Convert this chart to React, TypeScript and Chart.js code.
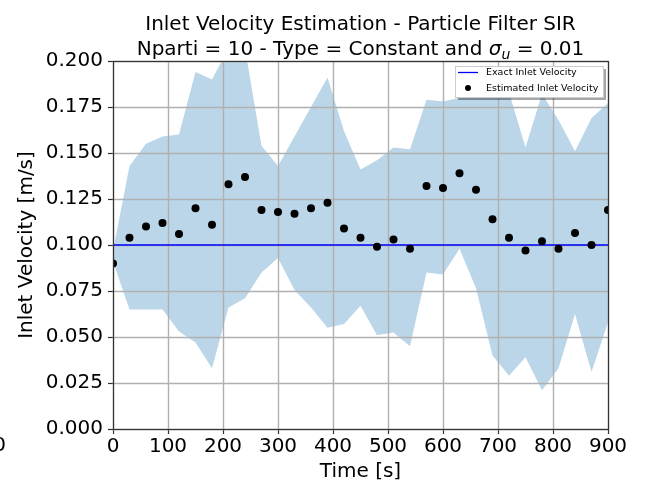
import React, { useEffect, useRef } from "react";
import { Chart, registerables } from "chart.js";

Chart.register(...registerables);

const times = [0, 30, 60, 90, 120, 150, 180, 210, 240, 270, 300, 330, 360, 390, 420, 450, 480, 510, 540, 570, 600, 630, 660, 690, 720, 750, 780, 810, 840, 870, 900];
const estimated = [0.090, 0.104, 0.110, 0.112, 0.106, 0.120, 0.111, 0.133, 0.137, 0.119, 0.118, 0.117, 0.120, 0.123, 0.109, 0.104, 0.099, 0.103, 0.098, 0.132, 0.131, 0.139, 0.130, 0.114, 0.104, 0.097, 0.102, 0.098, 0.1065, 0.100, 0.119];
const upperBand = [0.097, 0.143, 0.155, 0.159, 0.160, 0.194, 0.190, 0.207, 0.207, 0.154, 0.143, 0.159, 0.175, 0.191, 0.162, 0.141, 0.146, 0.153, 0.152, 0.179, 0.178, 0.180, 0.181, 0.184, 0.183, 0.153, 0.182, 0.168, 0.151, 0.169, 0.177];
const lowerBand = [0.091, 0.065, 0.065, 0.065, 0.053, 0.047, 0.033, 0.066, 0.071, 0.085, 0.093, 0.0755, 0.066, 0.055, 0.057, 0.067, 0.051, 0.0525, 0.045, 0.085, 0.084, 0.098, 0.0765, 0.040, 0.029, 0.039, 0.021, 0.033, 0.0625, 0.031, 0.058];
const exactTimes = [0, 900];
const exactValues = [0.1, 0.1];
const xTicks = [0, 100, 200, 300, 400, 500, 600, 700, 800, 900];
const yTicks = [0, 0.025, 0.05, 0.075, 0.1, 0.125, 0.15, 0.175, 0.2];
const titleLine1 = "Inlet Velocity Estimation - Particle Filter SIR";
const titleLine2a = "Nparti = 10 - Type = Constant and ";
const titleSigma = "\u03C3";
const titleSub = "u";
const titleLine2b = " = 0.01";
const legendLabels = ["Exact Inlet Velocity", "Estimated Inlet Velocity"];

const FONT = "'DejaVu Sans', sans-serif";

const decorPlugin = {
  id: "decor",
  afterDatasetDraw(chart: any, args: any) {
    if (args.index !== 2) return;
    const { ctx, chartArea, scales } = chart;
    ctx.save();
    ctx.strokeStyle = "#b0b0b0";
    ctx.lineWidth = 1.4;
    xTicks.forEach((t) => {
      const x = Math.round(scales.x.getPixelForValue(t)) + 0.5;
      ctx.beginPath();
      ctx.moveTo(x, chartArea.top);
      ctx.lineTo(x, chartArea.bottom);
      ctx.stroke();
    });
    yTicks.forEach((v) => {
      const y = Math.round(scales.y.getPixelForValue(v)) + 0.5;
      ctx.beginPath();
      ctx.moveTo(chartArea.left, y);
      ctx.lineTo(chartArea.right, y);
      ctx.stroke();
    });
    ctx.restore();
  },
  afterDraw(chart: any) {
    const { ctx, chartArea } = chart;
    ctx.save();
    // frame
    ctx.strokeStyle = "#333";
    ctx.lineWidth = 1.2;
    ctx.strokeRect(chartArea.left + 0.5, chartArea.top + 0.5, chartArea.right - chartArea.left, chartArea.bottom - chartArea.top);

    // title
    const cx = (chartArea.left + chartArea.right) / 2;
    ctx.fillStyle = "#000";
    ctx.textBaseline = "alphabetic";
    ctx.textAlign = "center";
    ctx.font = `20px ${FONT}`;
    ctx.fillText(titleLine1, cx, 30);
    ctx.textAlign = "left";
    const wA = ctx.measureText(titleLine2a).width;
    ctx.font = `italic 20px ${FONT}`;
    const wS = ctx.measureText(titleSigma).width;
    ctx.font = `italic 14px ${FONT}`;
    const wU = ctx.measureText(titleSub).width;
    ctx.font = `20px ${FONT}`;
    const wB = ctx.measureText(titleLine2b).width;
    const total = wA + wS + wU + wB;
    let x0 = cx - total / 2;
    const by = 55;
    ctx.fillText(titleLine2a, x0, by);
    x0 += wA;
    ctx.font = `italic 20px ${FONT}`;
    ctx.fillText(titleSigma, x0, by);
    x0 += wS;
    ctx.font = `italic 14px ${FONT}`;
    ctx.fillText(titleSub, x0, by + 4);
    x0 += wU;
    ctx.font = `20px ${FONT}`;
    ctx.fillText(titleLine2b, x0, by);

    // legend
    const lx = 455, ly = 66, lw = 148, lh = 31;
    ctx.fillStyle = "rgba(0,0,0,0.35)";
    ctx.fillRect(lx + 3, ly + 3, lw, lh);
    ctx.fillStyle = "#fff";
    ctx.fillRect(lx, ly, lw, lh);
    ctx.strokeStyle = "#cccccc";
    ctx.lineWidth = 1;
    ctx.strokeRect(lx + 0.5, ly + 0.5, lw, lh);
    ctx.strokeStyle = "blue";
    ctx.lineWidth = 1.3;
    ctx.beginPath();
    ctx.moveTo(458, 72.5);
    ctx.lineTo(478, 72.5);
    ctx.stroke();
    ctx.fillStyle = "#000";
    ctx.beginPath();
    ctx.arc(468, 88, 3, 0, Math.PI * 2);
    ctx.fill();
    ctx.font = `9.5px ${FONT}`;
    ctx.textBaseline = "middle";
    ctx.textAlign = "left";
    ctx.fillText(legendLabels[0], 486, 73);
    ctx.fillText(legendLabels[1], 486, 89);

    // stray clipped label at far left
    ctx.font = `20px ${FONT}`;
    ctx.textAlign = "right";
    ctx.textBaseline = "middle";
    ctx.fillText("0", 6, 446);
    ctx.restore();
  },
};

export default function App() {
  const ref = useRef<HTMLCanvasElement>(null);
  useEffect(() => {
    if (!ref.current) return;
    const chart = new Chart(ref.current, {
      type: "line",
      data: {
        datasets: [
          {
            label: legendLabels[1],
            data: times.map((t, i) => ({ x: t, y: estimated[i] })),
            showLine: false,
            pointRadius: 4,
            pointBackgroundColor: "#000",
            pointBorderWidth: 0,
            borderColor: "#000",
          },
          {
            label: legendLabels[0],
            data: exactTimes.map((t, i) => ({ x: t, y: exactValues[i] })),
            borderColor: "blue",
            borderWidth: 1.4,
            pointRadius: 0,
            fill: false,
          },
          {
            label: "upper",
            data: times.map((t, i) => ({ x: t, y: upperBand[i] })),
            borderWidth: 0,
            borderColor: "rgba(0,0,0,0)",
            pointRadius: 0,
            fill: "+1",
            backgroundColor: "rgba(31,119,180,0.3)",
            tension: 0,
          },
          {
            label: "lower",
            data: times.map((t, i) => ({ x: t, y: lowerBand[i] })),
            borderWidth: 0,
            borderColor: "rgba(0,0,0,0)",
            pointRadius: 0,
            fill: false,
            tension: 0,
          },
        ],
      },
      options: {
        responsive: false,
        animation: false,
        layout: { padding: { left: 0, right: 37, top: 61, bottom: 0 } },
        plugins: {
          legend: { display: false },
          title: { display: false },
          tooltip: { enabled: false },
        },
        scales: {
          x: {
            type: "linear",
            min: 0,
            max: 900,
            afterFit: (s: any) => { s.height = 61; },
            afterBuildTicks: (s: any) => { s.ticks = xTicks.map((v) => ({ value: v })); },
            ticks: {
              autoSkip: false,
              maxRotation: 0,
              color: "#000",
              font: { family: FONT, size: 20 },
              padding: 1,
              callback: (v: any) => String(v),
            },
            grid: { drawOnChartArea: false, drawTicks: true, tickLength: 5, tickColor: "#333", tickWidth: 1.2 },
            border: { display: false },
            title: { display: true, text: "Time [s]", color: "#000", font: { family: FONT, size: 20 }, padding: { top: 0, bottom: 6 } },
          },
          y: {
            type: "linear",
            min: 0,
            max: 0.2,
            afterFit: (s: any) => { s.width = 113; },
            afterBuildTicks: (s: any) => { s.ticks = yTicks.map((v) => ({ value: v })); },
            ticks: {
              autoSkip: false,
              color: "#000",
              font: { family: FONT, size: 20 },
              padding: 5,
              callback: (v: any) => Number(v).toFixed(3),
            },
            grid: { drawOnChartArea: false, drawTicks: true, tickLength: 5, tickColor: "#333", tickWidth: 1.2 },
            border: { display: false },
            title: { display: true, text: "Inlet Velocity [m/s]", color: "#000", font: { family: FONT, size: 20 }, padding: { top: 15, bottom: 0 } },
          },
        },
      },
      plugins: [decorPlugin],
    } as any);
    return () => chart.destroy();
  }, []);
  return (
    <div style={{ position: "fixed", left: 0, top: 0, width: 645, height: 490, background: "#fff" }}>
      <canvas ref={ref} width={645} height={490} />
    </div>
  );
}
